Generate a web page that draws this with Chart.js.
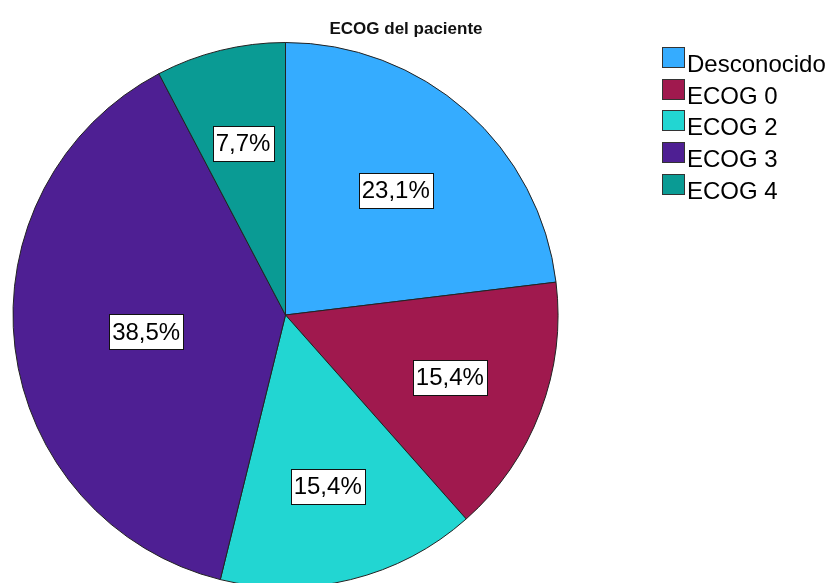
<!DOCTYPE html>
<html>
<head>
<meta charset="utf-8">
<script src="https://cdn.jsdelivr.net/npm/chart.js@4.4.0/dist/chart.umd.min.js"></script>
<style>
  html, body { margin: 0; padding: 0; background: #fff; overflow: hidden; }
  #wrap { width: 837px; height: 600px; }
</style>
</head>
<body>
<div id="wrap"><canvas id="pie" width="837" height="600"></canvas></div>
<script>
// ECOG del paciente
const categorias = ["Desconocido", "ECOG 0", "ECOG 2", "ECOG 3", "ECOG 4"];
const pacientes = [3, 2, 2, 5, 1];
const colores = ["#35acff", "#a0194e", "#22d6d2", "#4e1f93", "#0a9b94"];

// distancia de cada etiqueta al centro, en fraccion del radio
const radioEtiqueta = [0.61, 0.645, 0.647, 0.515, 0.65];

const total = pacientes.reduce((a, b) => a + b, 0);
const porcentaje = v => (v / total * 100).toFixed(1).replace(".", ",") + "%";

const etiquetas = {
  id: "etiquetas",
  afterDatasetsDraw(chart) {
    const ctx = chart.ctx;
    const arcs = chart.getDatasetMeta(0).data;
    ctx.save();
    ctx.font = "24px 'Liberation Sans', Arial, sans-serif";
    ctx.textAlign = "center";
    ctx.textBaseline = "middle";
    arcs.forEach((arc, i) => {
      const mid = (arc.startAngle + arc.endAngle) / 2;
      const r = arc.outerRadius * radioEtiqueta[i];
      const x = arc.x + Math.cos(mid) * r;
      const y = arc.y + Math.sin(mid) * r;
      const txt = porcentaje(pacientes[i]);
      const w = ctx.measureText(txt).width + 6;
      const h = 35;
      ctx.fillStyle = "#fff";
      ctx.fillRect(Math.round(x - w / 2), Math.round(y - h / 2), Math.round(w), h);
      ctx.strokeStyle = "#111";
      ctx.lineWidth = 1;
      ctx.strokeRect(Math.round(x - w / 2) + 0.5, Math.round(y - h / 2) + 0.5, Math.round(w), h);
      ctx.fillStyle = "#000";
      ctx.fillText(txt, x, y + 1);
    });
    ctx.restore();
  },
  afterDraw(chart) {
    const ctx = chart.ctx;
    ctx.save();
    // titulo
    ctx.font = "bold 17px 'Liberation Sans', Arial, sans-serif";
    ctx.fillStyle = "#111";
    ctx.textAlign = "center";
    ctx.textBaseline = "alphabetic";
    ctx.fillText("ECOG del paciente", 406, 34);
    // leyenda
    ctx.font = "24px 'Liberation Sans', Arial, sans-serif";
    ctx.textAlign = "left";
    categorias.forEach((c, i) => {
      const y = 47 + i * 31.7;
      ctx.fillStyle = colores[i];
      ctx.fillRect(662, Math.round(y), 22, 20);
      ctx.strokeStyle = "#333";
      ctx.lineWidth = 1;
      ctx.strokeRect(662.5, Math.round(y) + 0.5, 22, 20);
      ctx.fillStyle = "#000";
      ctx.fillText(c, 687, Math.round(y) + 25);
    });
    ctx.restore();
  }
};

new Chart(document.getElementById("pie"), {
  type: "pie",
  data: {
    labels: categorias,
    datasets: [
      {
        data: pacientes,
        backgroundColor: colores,
        borderColor: "#222",
        borderWidth: 1,
      },
    ],
  },
  options: {
    responsive: false,
    animation: false,
    layout: {
      padding: { left: 11, right: 277, top: 42, bottom: 12 },
    },
    plugins: {
      legend: { display: false },
      title: { display: false },
      tooltip: { enabled: false },
    },
  },
  plugins: [etiquetas],
});
</script>
</body>
</html>
